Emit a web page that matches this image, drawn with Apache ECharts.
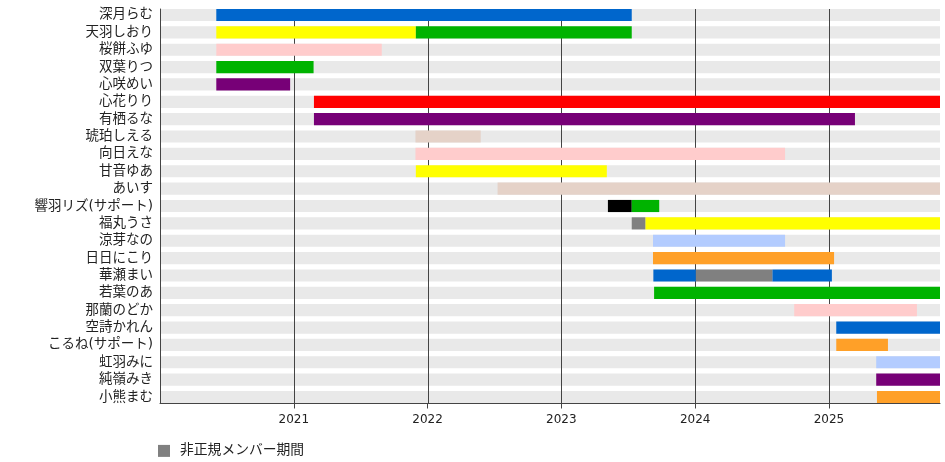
<!DOCTYPE html>
<html>
<head>
<meta charset="utf-8">
<script src="https://cdn.jsdelivr.net/npm/echarts@6/dist/echarts.min.js"></script>
<style>html,body{margin:0;padding:0;background:#fff}#c{width:945px;height:462px}</style>
</head>
<body>
<div id="c"></div>
<script>
// ---- data ----
const members = ['深月らむ','天羽しおり','桜餅ふゆ','双葉りつ','心咲めい','心花りり','有栖るな','琥珀しえる','向日えな','甘音ゆあ','あいす','響羽リズ(サポート)','福丸うさ','涼芽なの','日日にこり','華瀬まい','若葉のあ','那蘭のどか','空詩かれん','こるね(サポート)','虹羽みに','純嶺みき','小熊まむ'];
const AXIS_START = '2020-01-01';
const AXIS_END = '2025-10-31';
const yearTicks = [2021, 2022, 2023, 2024, 2025];
const legendName = '非正規メンバー期間';
// [member index, start, end, colour key]
const regularPeriods = [
  [0, '2020-06-03', '2023-07-12', 'blue'],
  [1, '2020-06-03', '2021-11-30', 'yellow'],
  [1, '2021-11-30', '2023-07-12', 'green'],
  [2, '2020-06-03', '2021-08-29', 'pink'],
  [3, '2020-06-03', '2021-02-24', 'green'],
  [4, '2020-06-03', '2020-12-22', 'purple'],
  [5, '2021-02-25', AXIS_END, 'red'],
  [6, '2021-02-25', '2025-03-13', 'purple'],
  [7, '2021-11-29', '2022-05-26', 'beige'],
  [8, '2021-11-29', '2024-09-03', 'pink'],
  [9, '2021-11-30', '2023-05-05', 'yellow'],
  [10, '2022-07-11', AXIS_END, 'beige'],
  [11, '2023-05-08', '2023-07-12', 'black'],
  [11, '2023-07-12', '2023-09-25', 'green'],
  [12, '2023-08-18', AXIS_END, 'yellow'],
  [13, '2023-09-08', '2024-09-03', 'lightblue'],
  [14, '2023-09-08', '2025-01-15', 'orange'],
  [15, '2023-09-09', '2024-01-03', 'blue'],
  [15, '2024-07-30', '2025-01-09', 'blue'],
  [16, '2023-09-11', AXIS_END, 'green'],
  [17, '2024-09-28', '2025-08-29', 'pink'],
  [18, '2025-01-21', AXIS_END, 'blue'],
  [19, '2025-01-21', '2025-06-11', 'orange'],
  [20, '2025-05-10', AXIS_END, 'lightblue'],
  [21, '2025-05-10', AXIS_END, 'purple'],
  [22, '2025-05-12', AXIS_END, 'orange']
];
// irregular (non-regular member) periods: [member index, start, end]
const irregularPeriods = [
  [12, '2023-07-12', '2023-08-18'],
  [15, '2024-01-03', '2024-07-30']
];

// ---- styles ----
const palette = {
  blue: '#0066cc', yellow: '#ffff00', pink: '#ffcccc', green: '#00b300',
  purple: '#770077', red: '#ff0000', beige: '#e5d2c8', lightblue: '#b3ccff',
  orange: '#ffa028', black: '#000000'
};
const irregularColor = '#808080';
const bandColor = '#e9e9e9';
const lineColor = '#444';
const FONT = "'DejaVu Sans', 'Noto Sans CJK JP', sans-serif";

function toYear(d) {
  const p = d.split('-').map(Number);
  const t = Date.UTC(p[0], p[1] - 1, p[2]);
  const t0 = Date.UTC(p[0], 0, 1), t1 = Date.UTC(p[0] + 1, 0, 1);
  return p[0] + (t - t0) / (t1 - t0);
}
const xMin = toYear(AXIS_START);
const xMax = toYear(AXIS_END);

function barRender(params, api) {
  const row = api.value(0);
  const p0 = api.coord([api.value(1), row]);
  const p1 = api.coord([api.value(2), row]);
  const h = api.size([0, 1])[1] * 0.7;
  const cs = params.coordSys;
  const shape = echarts.graphic.clipRectByRect(
    { x: p0[0], y: p0[1] - h / 2, width: p1[0] - p0[0], height: h },
    { x: cs.x, y: cs.y, width: cs.width, height: cs.height });
  if (!shape) return;
  return { type: 'rect', shape: shape, style: { fill: api.visual('color') } };
}

function lineRender(params, api) {
  const a = api.coord([api.value(0), 0]);
  const b = api.coord([api.value(0), 1]);
  const x = Math.round(a[0]) + 0.5;
  return { type: 'line', shape: { x1: x, y1: b[1], x2: x, y2: a[1] }, style: { stroke: lineColor, lineWidth: 1 } };
}

const chart = echarts.init(document.getElementById('c'), null, { renderer: 'canvas' });
chart.setOption({
  animation: false,
  backgroundColor: '#fff',
  textStyle: { fontFamily: FONT },
  grid: [
    { left: 160, right: 5, top: 6.3, bottom: 56.3 },
    { left: 160, right: 5, top: 9, bottom: 58.5 }
  ],
  xAxis: [
    { type: 'value', gridIndex: 0, min: xMin, max: xMax, show: false },
    {
      type: 'value', gridIndex: 1, min: xMin, max: xMax, z: 2,
      axisLine: { show: true, onZero: false, lineStyle: { color: lineColor, width: 1 } },
      axisTick: { show: true, length: 5, customValues: yearTicks, lineStyle: { color: lineColor } },
      axisLabel: { customValues: yearTicks, fontSize: 12, color: '#222', margin: 10, fontFamily: FONT, formatter: v => String(Math.round(v)) },
      splitLine: { show: false }
    }
  ],
  yAxis: [
    {
      type: 'category', gridIndex: 0, data: members, inverse: true,
      axisLine: { show: false }, axisTick: { show: false },
      axisLabel: { interval: 0, fontSize: 13.5, color: '#222', margin: 7, fontFamily: FONT },
      splitLine: { show: false }
    },
    {
      type: 'value', gridIndex: 1, min: 0, max: 1, z: 2,
      axisLine: { show: true, lineStyle: { color: lineColor, width: 1 } },
      axisTick: { show: false }, axisLabel: { show: false }, splitLine: { show: false }
    }
  ],
  legend: {
    data: [legendName], left: 153, top: 439, icon: 'rect', itemWidth: 12, itemHeight: 12,
    selectedMode: false,
    textStyle: { fontSize: 13.8, color: '#222', fontFamily: FONT, padding: [0, 0, 0, 5] }
  },
  series: [
    {
      type: 'custom', name: 'bands', xAxisIndex: 0, yAxisIndex: 0, z: 1, silent: true,
      itemStyle: { color: bandColor },
      encode: { x: [1, 2], y: 0 },
      data: members.map((m, i) => [i, xMin, xMax]),
      renderItem: barRender
    },
    {
      type: 'custom', name: 'years', xAxisIndex: 1, yAxisIndex: 1, z: 2, silent: true,
      encode: { x: 0 },
      data: yearTicks.map(y => [y]),
      renderItem: lineRender
    },
    {
      type: 'custom', name: 'regular', xAxisIndex: 0, yAxisIndex: 0, z: 3,
      encode: { x: [1, 2], y: 0 },
      data: regularPeriods.map(p => ({ value: [p[0], toYear(p[1]), toYear(p[2])], itemStyle: { color: palette[p[3]] } })),
      renderItem: barRender
    },
    {
      type: 'custom', name: legendName, xAxisIndex: 0, yAxisIndex: 0, z: 3,
      itemStyle: { color: irregularColor },
      encode: { x: [1, 2], y: 0 },
      data: irregularPeriods.map(p => [p[0], toYear(p[1]), toYear(p[2])]),
      renderItem: barRender
    }
  ]
});
</script>
</body>
</html>
